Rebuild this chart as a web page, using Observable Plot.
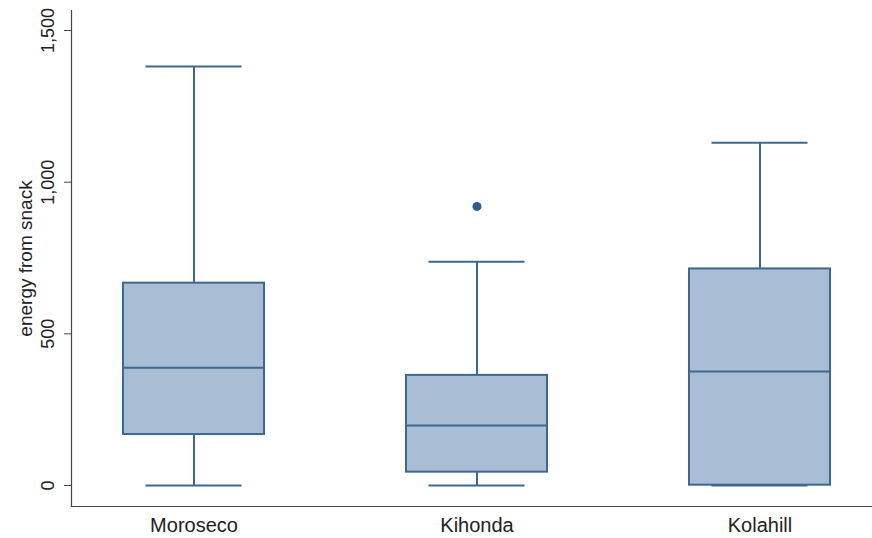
<!DOCTYPE html>
<html>
<head>
<meta charset="utf-8">
<script src="https://cdn.jsdelivr.net/npm/d3@7"></script>
<script src="https://cdn.jsdelivr.net/npm/@observablehq/plot@0.6"></script>
<style>
  html, body { margin: 0; padding: 0; background: #fff; }
  #chart { width: 872px; height: 538px; }
</style>
</head>
<body>
<div id="chart"></div>
<script>
// Energy from snack, by village: box-plot summaries
const groups = ["Moroseco", "Kihonda", "Kolahill"];
const lowerWhisker = [0, 0, 0];
const q1 = [168, 44, 1];
const median = [388, 198, 376];
const q3 = [667, 363, 714];
const upperWhisker = [1381, 738, 1130];
const outlierGroups = ["Kihonda"];
const outlierValues = [920];
const yTicks = [0, 500, 1000, 1500];
const yTitle = "energy from snack";

const boxes = groups.map((g, i) => ({
  group: g, lo: lowerWhisker[i], q1: q1[i], med: median[i], q3: q3[i], hi: upperWhisker[i]
}));
const outliers = outlierGroups.map((g, i) => ({ group: g, value: outlierValues[i] }));

const line = "#3d6891";
const fill = "#a9bed4";

const chart = Plot.plot({
  width: 872,
  height: 538,
  marginLeft: 71,
  marginRight: 0,
  marginTop: 10,
  marginBottom: 32,
  style: { fontFamily: "'Liberation Sans', Arial, sans-serif", fontSize: "18px", color: "#222", background: "#fff" },
  x: { type: "band", domain: groups, range: [51.4, 901.1], padding: 0, axis: null },
  y: { domain: [0, 1500], range: [485, 30], axis: null },
  marks: [
    // whisker stems
    Plot.ruleX(boxes, { x: "group", y1: "lo", y2: "q1", stroke: line, strokeWidth: 2 }),
    Plot.ruleX(boxes, { x: "group", y1: "q3", y2: "hi", stroke: line, strokeWidth: 2 }),
    // whisker caps
    Plot.tickY(boxes, { x: "group", y: "lo", insetLeft: 93.5, insetRight: 93.5, stroke: line, strokeWidth: 2 }),
    Plot.tickY(boxes, { x: "group", y: "hi", insetLeft: 93.5, insetRight: 93.5, stroke: line, strokeWidth: 2 }),
    // interquartile boxes
    Plot.barY(boxes, { x: "group", y1: "q1", y2: "q3", insetLeft: 71, insetRight: 71, fill: fill, stroke: line, strokeWidth: 2 }),
    // medians
    Plot.tickY(boxes, { x: "group", y: "med", insetLeft: 71, insetRight: 71, stroke: line, strokeWidth: 2 }),
    // outside values
    Plot.dot(outliers, { x: "group", y: "value", r: 4.5, fill: "#2c5c88", stroke: null }),
    // axes
    Plot.frame({ anchor: "left", stroke: "#444", strokeWidth: 1.2 }),
    Plot.frame({ anchor: "bottom", stroke: "#444", strokeWidth: 1.2 }),
    Plot.axisY({ ticks: yTicks, tickSize: 7, tickPadding: 11, tickRotate: -90, tickFormat: d3.format(","), label: null, stroke: "#444", fontSize: 18, fill: "#222" }),
    Plot.axisX({ tickSize: 0, tickPadding: 11, label: null, fontSize: 20, fill: "#222" }),
    Plot.text([yTitle], { frameAnchor: "left", text: d => d, rotate: -90, textAnchor: "middle", lineAnchor: "bottom", dx: -40, fontSize: 19, fill: "#222" })
  ]
});
document.getElementById("chart").appendChild(chart);
</script>
</body>
</html>
